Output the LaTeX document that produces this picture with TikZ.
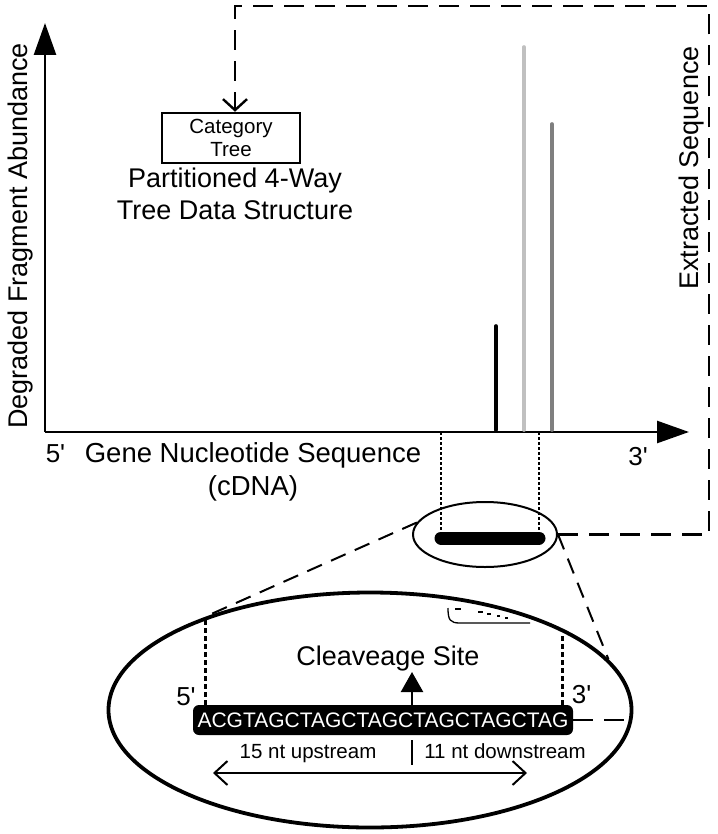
\documentclass[tikz,border=0pt]{standalone}
\usepackage{fontspec}
\setmainfont{Liberation Sans}
\usetikzlibrary{arrows.meta,shapes.geometric,calc}
\definecolor{lightpeak}{HTML}{C0C0C0}
\definecolor{darkpeak}{HTML}{7F7F7F}
\begin{document}
\begin{tikzpicture}[x=1pt,y=-1pt,
  axisline/.style={line width=2.6pt},
  longdash/.style={line width=2.4pt, dash pattern=on 20pt off 11pt},
  meddash/.style={line width=2pt, dash pattern=on 16pt off 10pt},
  finedot/.style={line width=1.6pt, dash pattern=on 2.5pt off 2.5pt},
  thickdot/.style={line width=3pt, dash pattern=on 5pt off 3pt},
  peak/.style={line width=3.6pt, line cap=round},
  lbl/.style={inner sep=0pt, font=\fontsize{27}{32}\selectfont},
  midlbl/.style={inner sep=0pt, font=\fontsize{26}{30}\selectfont},
  smalllbl/.style={inner sep=0pt, font=\fontsize{20.5}{23}\selectfont},
  bigarrow/.style={-{Triangle[length=32pt,width=22pt]}},
  barb/.style={line width=2pt},
]
\useasboundingbox (0,0) rectangle (717,834);

% axes
\coordinate (O) at (45,432);
\coordinate (Ytip) at (45,23);
\coordinate (Xtip) at (689,432);
\draw[axisline, bigarrow] (O) -- (Ytip);
\draw[axisline, bigarrow] (O) -- (Xtip);

% peaks
\coordinate (p1) at (496,326);
\coordinate (p2) at (524,47);
\coordinate (p3) at (552,124);
\draw[peak, black] (p1 |- 0,430) -- (p1);
\draw[peak, lightpeak] (p2 |- 0,430) -- (p2);
\draw[peak, darkpeak] (p3 |- 0,430) -- (p3);

% axis labels
\node[lbl, rotate=90, anchor=base] (ylab) at (27,236) {Degraded Fragment Abundance};
\node[lbl, rotate=90, anchor=base] (elab) at (698,168) {Extracted Sequence};
\node[midlbl, anchor=base] (five) at (55.5,462) {5\textquotesingle};
\node[midlbl, anchor=base] (three) at (638,465) {3\textquotesingle};
\node[lbl, align=center, font=\fontsize{27.5}{33}\selectfont] (xlab) at (253,471.5) {Gene Nucleotide Sequence\\(cDNA)};

% category tree box
\node[draw, line width=2.5pt, minimum width=138pt, minimum height=50pt, inner sep=0pt,
      align=center, font=\fontsize{20.5}{23}\selectfont] (box) at (231,138) {Category\\Tree};
\node[lbl, align=center] (ptext) at (235,194.2) {Partitioned 4-Way\\Tree Data Structure};

% extracted segment
\node[draw, ellipse, line width=2pt, minimum width=144pt, minimum height=65pt, inner sep=0pt] (small) at (485,534.5) {};
\coordinate (b1) at (441,538);
\coordinate (b2) at (539,538);
\draw[line width=13pt, line cap=round] (b1) -- (b2);
\draw[finedot] (b1 |- O) -- (b1);
\draw[finedot] (b2 |- O) -- (b2);

% dashed feedback connector
\coordinate (c1) at (709,6);
\coordinate (boxtip) at ($(box.north)+(4,0)$);
\draw[longdash, -{Straight Barb[length=11pt,width=24pt]}] (small.east) -| (c1) -| (boxtip);

% magnified view
\node[draw, ellipse, line width=3.8pt, minimum width=523pt, minimum height=235pt, inner sep=0pt] (big) at (370,710) {};
\draw[meddash] (small.170) -- (big.151.6);
\draw[meddash] (small.east) -- (big.12.8);

% artifact near top of big ellipse
\draw[line width=1.3pt] (448,608) .. controls (448,620) and (450,623) .. (460,623) -- (530,623);
\draw[line width=1.3pt] (455,609) -- (461,609) (478,612) -- (483,612) (487,614) -- (491,614) (497,616) -- (500,616) (505,618) -- (508,618);

\node[fill=black, text=white, rounded corners=6pt, minimum width=380pt, minimum height=30pt,
      inner sep=0pt, font=\fontsize{21}{21}\selectfont] (seq) at (383,720) {ACGTAGCTAGCTAGCTAGCTAGCTAG};
\coordinate (d1) at (205,619);
\coordinate (d2) at (562,633);
\draw[thickdot] (seq.north -| d1) -- (d1);
\draw[thickdot] (seq.north -| d2) -- (d2);
\draw[longdash] (seq.east) -- (seq.east -| big.east);

\node[midlbl, anchor=base] (five2) at (186,705) {5\textquotesingle};
\node[midlbl, anchor=base] (three2) at (581.5,703) {3\textquotesingle};

% cleavage site
\coordinate (cl) at (412,672);
\draw[line width=2.4pt, -{Triangle[length=20pt,width=22pt]}] (seq.north -| cl) -- (cl);
\node[lbl, anchor=base] (cltext) at (388,665) {Cleaveage Site};
\coordinate (t1) at (412,740);
\coordinate (t2) at (412,765);
\draw[line width=2.6pt] (t1) -- (t2);

\node[smalllbl, anchor=base] (up) at (308,758) {15 nt upstream};
\node[smalllbl, anchor=base] (down) at (505,758) {11 nt downstream};
\coordinate (a1) at (213,773);
\coordinate (a2) at (527,773);
\draw[barb, {Straight Barb[length=13pt,width=24pt]}-{Straight Barb[length=13pt,width=24pt]}] (a1) -- (a2);
\end{tikzpicture}
\end{document}
